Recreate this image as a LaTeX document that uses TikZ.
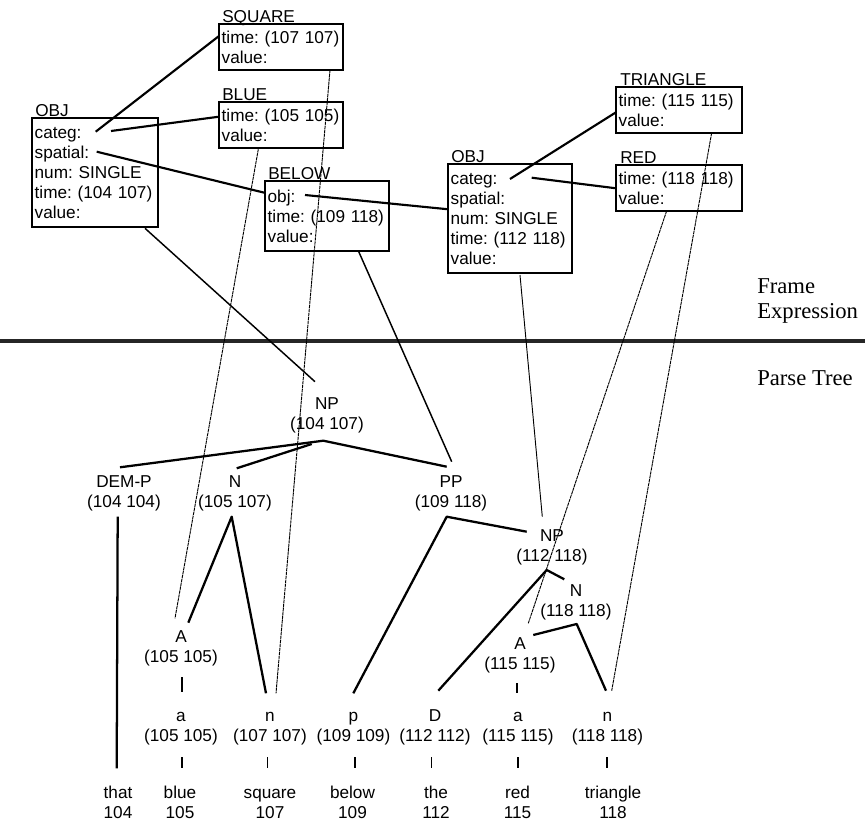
\documentclass[tikz,border=0pt]{standalone}
\usepackage{fontspec}
\setmainfont{Liberation Sans}
\newfontfamily\serifrm{Liberation Serif}
\newcommand{\twol}[2]{\vphantom{(}#1\\#2\vphantom{(}}
\frenchspacing
\begin{document}
\begin{tikzpicture}[x=0.75pt,y=-0.75pt,
  fr/.style={draw, line width=1.5pt, inner xsep=2pt, inner ysep=0pt, align=left, font=\fontsize{12.9}{15}\selectfont},
  frw/.style={fr, text width=89pt},
  frww/.style={fr, text width=90.5pt},
  flab/.style={anchor=base west, inner sep=0pt, font=\fontsize{12.9}{15}\selectfont},
  tn/.style={align=center, inner sep=0pt, font=\fontsize{12.9}{15}\selectfont},
  side/.style={anchor=base west, inner sep=0pt, font=\serifrm\fontsize{17}{20}\selectfont},
  tl/.style={line width=1.7pt, line join=round},
  link/.style={line width=1.6pt},
  tick/.style={line width=1.4pt},
  fine/.style={line width=0.7pt, dash pattern=on 2.5pt off 0.5pt},
  medl/.style={line width=1.1pt},
  rule/.style={line width=3pt, black!85},
]
\useasboundingbox (0,0) rectangle (865,824);

% ---------- frame boxes ----------
\node[frw, minimum height=34.5pt] (sq) at (281,47) {time: (107 107)\\value:};
\node[frw, minimum height=34.5pt] (bl) at (281,125) {time: (105 105)\\value:};
\node[frww, minimum height=81.75pt] (obj1) at (95,172.5) {\vphantom{(}categ:\\spatial:\\num: SINGLE\\time: (104 107)\\value:};
\node[frw, minimum height=52.5pt] (bel) at (327,216) {\vphantom{(}obj:\\time: (109 118)\\value:};
\node[frw, minimum height=81.75pt] (obj2) at (510,218.5) {\vphantom{(}categ:\\spatial:\\num: SINGLE\\time: (112 118)\\value:};
\node[frww, minimum height=34.5pt] (tri) at (679,110) {time: (115 115)\\value:};
\node[frww, minimum height=34.5pt] (red) at (679,188) {time: (118 118)\\value:};

\node[flab] (sqL) at (222,22.5) {SQUARE};
\node[flab] (blL) at (222,100.5) {BLUE};
\node[flab] (obj1L) at (35,116.5) {OBJ};
\node[flab] (belL) at (268,179.5) {BELOW};
\node[flab] (obj2L) at (451,162.5) {OBJ};
\node[flab] (triL) at (620,85.5) {TRIANGLE};
\node[flab] (redL) at (620,163.5) {RED};

% side labels
\node[side] (fe1) at (757,293) {Frame};
\node[side] (fe2) at (757,318) {Expression};
\node[side] (pt) at (757,385) {Parse Tree};

% separating rule
\coordinate (ruleL) at (0,341);
\coordinate (ruleR) at (865,341);
\draw[rule] (ruleL) -- (ruleR);

% ---------- parse tree nodes ----------
\node[tn] (np1) at (327,415.5) {\twol{NP}{(104 107)}};
\node[tn] (demp) at (124,493.5) {\twol{DEM-P}{(104 104)}};
\node[tn] (n1) at (235,493.5) {\twol{N}{(105 107)}};
\node[tn] (pp) at (451,493.5) {\twol{PP}{(109 118)}};
\node[tn] (np2) at (552,547.5) {\twol{NP}{(112 118)}};
\node[tn] (n2) at (576,602.5) {\twol{N}{(118 118)}};
\node[tn] (a1) at (181,648.5) {\twol{A}{(105 105)}};
\node[tn] (a2) at (520,655.5) {\twol{A}{(115 115)}};

\node[tn] (la) at (181,727) {\twol{a}{(105 105)}};
\node[tn] (ln1) at (270,727) {\twol{n}{(107 107)}};
\node[tn] (lp) at (353.5,727) {\twol{p}{(109 109)}};
\node[tn] (lD) at (435,727) {\twol{D}{(112 112)}};
\node[tn] (la2) at (518,727) {\twol{a}{(115 115)}};
\node[tn] (ln2) at (607.5,727) {\twol{n}{(118 118)}};

\node[tn] (w1) at (118,804.5) {\twol{that}{104}};
\node[tn] (w2) at (180,804.5) {\twol{blue}{105}};
\node[tn] (w3) at (270,804.5) {\twol{square}{107}};
\node[tn] (w4) at (352.5,804.5) {\twol{below}{109}};
\node[tn] (w5) at (436,804.5) {\twol{the}{112}};
\node[tn] (w6) at (517.5,804.5) {\twol{red}{115}};
\node[tn] (w7) at (613,804.5) {\twol{triangle}{118}};

% ---------- connector end points ----------
\coordinate (np1b) at (323.3,440.7);
\coordinate (np1c) at (311.7,444);
\coordinate (dempT) at (120,467.3);
\coordinate (ppT) at (446.7,466.7);
\coordinate (n1T) at (236.7,468.3);
\coordinate (n1B) at (231.7,516.7);
\coordinate (a1T) at (188.3,622.7);
\coordinate (ln1T) at (266,693.3);
\coordinate (dempB) at (117.7,516.7);
\coordinate (dempE) at (116.7,768.3);
\coordinate (ppB) at (446.7,516.7);
\coordinate (lpT) at (353.3,693.3);
\coordinate (np2L) at (526.7,531.7);
\coordinate (np2B) at (546.7,570);
\coordinate (n2T) at (564.3,579.3);
\coordinate (lDT) at (438.3,690.7);
\coordinate (n2B) at (576.7,624);
\coordinate (a2T) at (533.3,635);
\coordinate (ln2T) at (606,690.7);

% ---------- tree edges ----------
\draw[tl] (dempT) -- (np1b) -- (ppT);
\draw[tl] (np1c) -- (n1T);
\draw[tl] (a1T) -- (n1B) -- (ln1T);
\draw[tl] (dempB) -- (dempE);
\draw[tl] (lpT) -- (ppB) -- (np2L);
\draw[tl] (lDT) -- (np2B) -- (n2T);
\draw[tl] (a2T) -- (n2B) -- (ln2T);

% ticks
\coordinate (t1a) at (181.7,677); \coordinate (t1b) at (181.7,692);
\coordinate (t2a) at (516.7,683); \coordinate (t2b) at (516.7,693);
\draw[tick] (t1a) -- (t1b);
\draw[tick] (t2a) -- (t2b);
\foreach \xx/\nm in {181.7/a,267.5/b,355/c,431.5/d,518/e,607/f}{
  \coordinate (tk\nm a) at (\xx,757);
  \coordinate (tk\nm b) at (\xx,768);
  \draw[tick] (tk\nm a) -- (tk\nm b);
}

% ---------- frame links ----------
\coordinate (o1c1) at (95.7,131.7);   \coordinate (sqW) at (219,36);
\coordinate (o1c2) at (111,131);      \coordinate (blW) at (219,116.7);
\coordinate (o1sp) at (96.7,151.7);   \coordinate (belW) at (264.3,192.7);
\coordinate (belo) at (305,195);      \coordinate (o2W) at (448.3,209.3);
\coordinate (o2c1) at (510,179);      \coordinate (triW) at (616,112.3);
\coordinate (o2c2) at (531.7,177.7);  \coordinate (redW) at (616,188.3);
\draw[link] (o1c1) -- (sqW);
\draw[link] (o1c2) -- (blW);
\draw[link] (o1sp) -- (belW);
\draw[link] (belo) -- (o2W);
\draw[link] (o2c1) -- (triW);
\draw[link] (o2c2) -- (redW);

% ---------- frame to tree ----------
\coordinate (blB) at (258.3,149.3);  \coordinate (a1x) at (175,618.3);
\coordinate (sqB) at (330,70);       \coordinate (ln1x) at (276,693.3);
\coordinate (redB) at (666.7,210.7); \coordinate (a2x) at (528.3,623.3);
\coordinate (triB) at (711.7,132.7); \coordinate (ln2x) at (611.7,690.7);
\coordinate (o1B) at (145,228.3);    \coordinate (np1T) at (315,381.7);
\coordinate (belB) at (358.3,250.7); \coordinate (ppx) at (451.7,461.7);
\coordinate (o2B) at (520,275);      \coordinate (np2T) at (542.3,516.7);
\draw[fine] (blB) -- (a1x);
\draw[fine] (sqB) -- (ln1x);
\draw[fine] (redB) -- (a2x);
\draw[fine] (triB) -- (ln2x);
\draw[medl] (o1B) -- (np1T);
\draw[medl] (belB) -- (ppx);
\draw[line width=0.7pt] (o2B) -- (np2T);
\end{tikzpicture}
\end{document}
